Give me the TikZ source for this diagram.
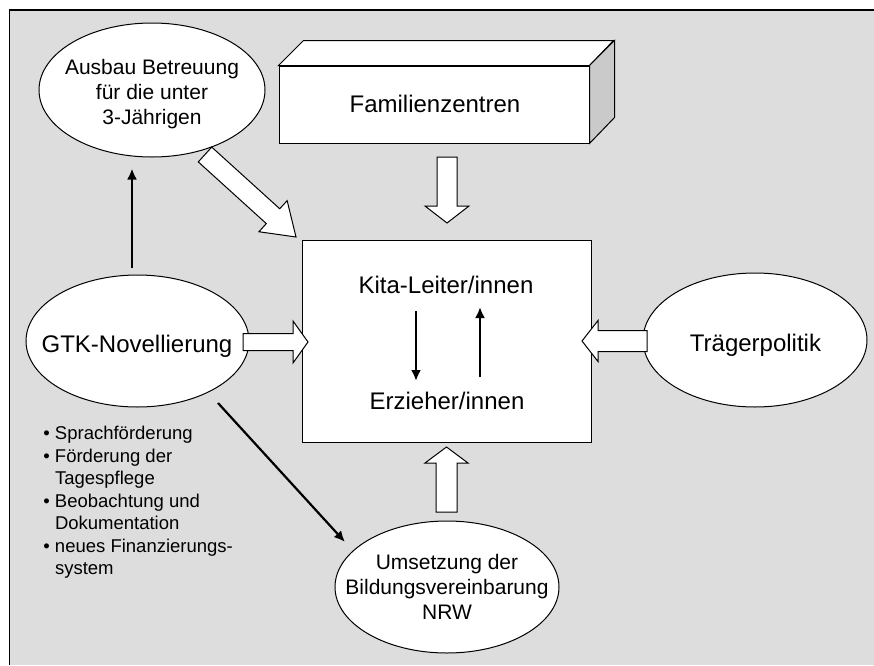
\documentclass[tikz,border=0pt]{standalone}
\usepackage{fontspec}
\setmainfont{Liberation Sans}
\usetikzlibrary{shapes.geometric,arrows.meta,calc}
\definecolor{bggray}{HTML}{DDDDDD}
\definecolor{sidegray}{HTML}{CACACA}
% block arrow: #1 tail, #2 tip, #3 shaft half width, #4 head half width, #5 head length
\newcommand\blkarrow[5]{%
  \coordinate (bahb) at ($(#2)!#5!(#1)$);
  \draw[blockarrow] ($(#1)!#3!90:(#2)$) -- ($(bahb)!#3!90:(#2)$) -- ($(bahb)!#4!90:(#2)$)
    -- (#2) -- ($(bahb)!#4!-90:(#2)$) -- ($(bahb)!#3!-90:(#2)$) -- ($(#1)!#3!-90:(#2)$) -- cycle;
}
\begin{document}
\begin{tikzpicture}[x=0.5pt,y=-0.5pt,
  ell/.style={draw, fill=white, ellipse, line width=0.5pt, inner sep=0pt},
  blockarrow/.style={draw, fill=white, line width=0.5pt, line join=miter},
  conn/.style={line width=1.1pt, -{Latex[length=5.5pt,width=5pt]}},
  big/.style={font=\fontsize{12}{14}\selectfont, inner sep=0pt},
  mid/.style={font=\fontsize{10.5}{12.5}\selectfont, inner sep=0pt, align=center},
  small/.style={font=\fontsize{9.25}{11.25}\selectfont, inner sep=0pt, anchor=base west},
  face/.style={draw, line width=0.5pt, line join=miter}]
\useasboundingbox (0,0) rectangle (874,665);
% background
\fill[bggray] (9.5,10) rectangle (874,665);
\draw[line width=0.7pt] (9.5,665) -- (9.5,10) -- (874,10);

% shapes
\node[ell, minimum width=113pt, minimum height=67pt] (ausbau) at (152,90) {};
\node[mid] (ausbautext) at (152,94) {Ausbau Betreuung\\für die unter\\3-Jährigen};

\node[face, fill=white, minimum width=155pt, minimum height=38.5pt, inner sep=0pt] (fam) at (434,104.5) {};
\draw[face, fill=white] (fam.north west) -- ++(25,-25) -- ++(310,0) -- (fam.north east) -- cycle;
\draw[face, fill=sidegray] (fam.north east) -- ++(25,-25) -- ++(0,77) -- (fam.south east) -- cycle;
\node[big, anchor=base] (famtext) at (435,112) {Familienzentren};

\node[face, fill=white, minimum width=144.5pt, minimum height=101pt, inner sep=0pt] (main) at (446.5,341) {};
\node[big, anchor=base] (kita) at (446,293) {Kita-Leiter/innen};
\node[big, anchor=base] (erz) at (447,409) {Erzieher/innen};

\node[ell, minimum width=111.5pt, minimum height=66pt] (gtk) at (137.5,341) {};
\node[big, anchor=base] (gtktext) at (137,352.5) {GTK-Novellierung};

\node[ell, minimum width=112pt, minimum height=67pt] (trae) at (755,340) {};
\node[big, anchor=base] (traetext) at (755.5,351.5) {Trägerpolitik};

\node[ell, minimum width=112pt, minimum height=66pt] (ums) at (447,587) {};
\node[mid] (umstext) at (447,587) {Umsetzung der\\Bildungsvereinbarung\\NRW};

% bullet list
\node[small] (b1) at (43,439.5) {• Sprachförderung};
\node[small] (b2) at (43,462) {• Förderung der};
\node[small] (b3) at (43,484.5) {\phantom{• }Tagespflege};
\node[small] (b4) at (43,507) {• Beobachtung und};
\node[small] (b5) at (43,529.5) {\phantom{• }Dokumentation};
\node[small] (b6) at (43,552) {• neues Finanzierungs-};
\node[small] (b7) at (43,574.5) {\phantom{• }system};

% block arrows
\coordinate (famA) at (447,157);   \coordinate (famB) at (447,223);
\coordinate (gtkA) at (243,342);   \coordinate (gtkB) at (308,342);
\coordinate (traA) at (647,341);   \coordinate (traB) at (582,341);
\coordinate (umsA) at (446.5,512); \coordinate (umsB) at (446.5,447);
\coordinate (ausA) at (205,154.5); \coordinate (ausB) at (296,237);
\blkarrow{famA}{famB}{5pt}{11pt}{8.5pt}
\blkarrow{gtkA}{gtkB}{4.25pt}{10.5pt}{7.5pt}
\blkarrow{traA}{traB}{5.25pt}{10.25pt}{8pt}
\blkarrow{umsA}{umsB}{5.25pt}{10.75pt}{8pt}
\blkarrow{ausA}{ausB}{5pt}{10.5pt}{15.5pt}

% black connectors
\draw[conn] ([shift={(-5.5,-7)}]gtk.north) -- ([shift={(-20,11)}]ausbau.south);
\coordinate (gd1) at (218,403); \coordinate (gd2) at (345,542);
\draw[conn] (gd1) -- (gd2);
\coordinate (k1) at (416,311); \coordinate (e1) at (416,381);
\coordinate (e2) at (480,377); \coordinate (k2) at (480,307);
\draw[conn] (k1) -- (e1);
\draw[conn] (e2) -- (k2);
\end{tikzpicture}
\end{document}
